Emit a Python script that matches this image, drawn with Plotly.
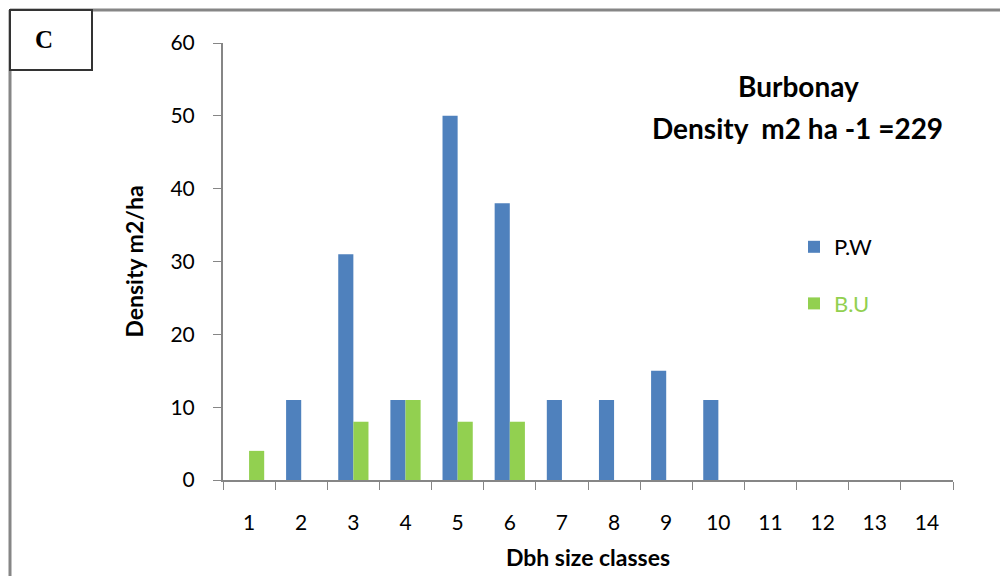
import plotly.graph_objects as go

# Dbh size classes and basal-area density per class
classes = [str(i) for i in range(1, 15)]
pw_values = [0, 11, 31, 11, 50, 38, 11, 11, 15, 11, 0, 0, 0, 0]
bu_values = [4, 0, 8, 11, 8, 8, 0, 0, 0, 0, 0, 0, 0, 0]

series_names = ["P.W", "B.U"]
series_colors = ["#4F81BD", "#92D050"]

title_lines = ["Burbonay", "Density  m2 ha -1 =229"]

W, H = 1000, 576
L, R, T, B = 223, 47, 43, 96
plot_w = W - L - R
plot_h = H - T - B


def px_x(px):
    return (px - L) / plot_w


def px_y(py):
    return (H - B - py) / plot_h


FONT = "Lato"
GRAY = "#868686"

fig = go.Figure()
for name, vals, color in zip(series_names, [pw_values, bu_values], series_colors):
    label = name if name == "P.W" else f'<span style="color:{color}">{name}</span>'
    fig.add_trace(go.Bar(
        x=classes, y=vals, name=label, legendgroup=name,
        marker=dict(color=color, line=dict(width=0)),
    ))

fig.update_layout(
    width=W, height=H,
    margin=dict(l=L, r=R, t=T, b=B),
    paper_bgcolor="white", plot_bgcolor="white",
    barmode="group", bargap=0.42, bargroupgap=0,
    font=dict(family=FONT, size=21, color="black"),
    showlegend=True,
    legend=dict(
        x=px_x(794), y=px_y(226), xanchor="left", yanchor="top",
        font=dict(size=22, color="black"), tracegroupgap=25,
        bgcolor="rgba(0,0,0,0)", itemwidth=30,
    ),
    xaxis=dict(
        type="category", tickson="boundaries", ticks="outside", ticklen=8,
        tickcolor=GRAY, showline=True, linecolor=GRAY, linewidth=2,
        showgrid=False, ticklabelstandoff=23, automargin=False,
        tickfont=dict(size=21),
        title=dict(text="<b>Dbh size classes</b>", font=dict(size=23), standoff=17),
    ),
    yaxis=dict(
        range=[0, 60], dtick=10, ticks="outside", ticklen=8,
        tickcolor=GRAY, showline=True, linecolor=GRAY, linewidth=2,
        showgrid=False, zeroline=False, ticklabelstandoff=14, automargin=False,
        tickfont=dict(size=21),
        title=dict(text="<b>Density m2/ha</b>", font=dict(size=23), standoff=20),
    ),
    annotations=[
        dict(text=f"<b>{title_lines[0]}</b>",
             xref="paper", yref="paper", x=px_x(798), y=px_y(86),
             xanchor="center", yanchor="middle", showarrow=False,
             font=dict(size=28, family=FONT)),
        dict(text=f"<b>{title_lines[1]}</b>",
             xref="paper", yref="paper", x=px_x(797), y=px_y(128),
             xanchor="center", yanchor="middle", showarrow=False,
             font=dict(size=28, family=FONT)),
        dict(text="<b>C</b>", xref="paper", yref="paper",
             x=px_x(44), y=px_y(39), xanchor="center", yanchor="middle",
             showarrow=False, font=dict(size=25, family="Liberation Serif")),
    ],
    shapes=[
        dict(type="line", xref="paper", yref="paper",
             x0=px_x(10), x1=px_x(1000), y0=px_y(10), y1=px_y(10),
             line=dict(color=GRAY, width=3)),
        dict(type="line", xref="paper", yref="paper",
             x0=px_x(10), x1=px_x(10), y0=px_y(10), y1=px_y(576),
             line=dict(color=GRAY, width=3)),
        dict(type="rect", xref="paper", yref="paper",
             x0=px_x(10), x1=px_x(92), y0=px_y(10), y1=px_y(70),
             line=dict(color="#333333", width=2), fillcolor="white"),
    ],
)

fig.write_html("out.html")
